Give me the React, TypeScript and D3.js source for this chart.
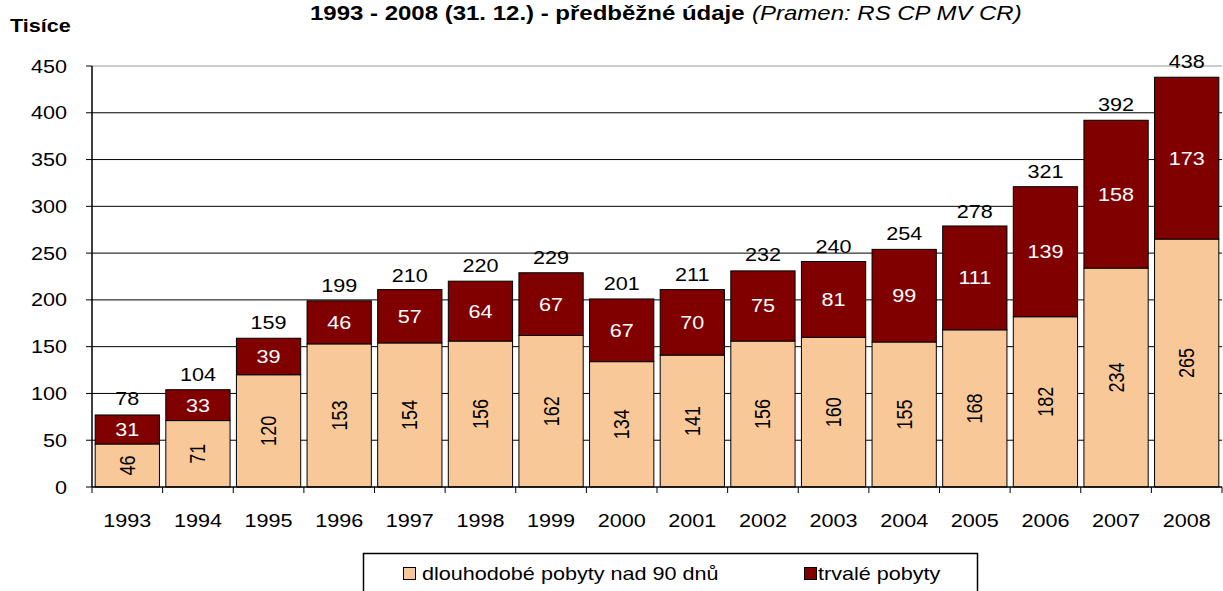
import React from "react";
import * as d3 from "d3";

const years = ["1993","1994","1995","1996","1997","1998","1999","2000","2001","2002","2003","2004","2005","2006","2007","2008"];
const longTerm = [46,71,120,153,154,156,162,134,141,156,160,155,168,182,234,265];
const permanent = [31,33,39,46,57,64,67,67,70,75,81,99,111,139,158,173];
const totals = [78,104,159,199,210,220,229,201,211,232,240,254,278,321,392,438];
const yTicks = [0,50,100,150,200,250,300,350,400,450];
const seriesNames = ["dlouhodobé pobyty nad 90 dnů", "trvalé pobyty"];

const W = 1223, H = 591;
const left = 92, right = 1222, top = 66, bottom = 487;
const C_LOW = "#F8C899", C_HIGH = "#800000";
const FONT = "'Liberation Sans', Arial, sans-serif";
const SX = 1.2;

function ST({ x, y, anchor = "start", size = 18, rot = 0, fill = "#000", weight = "normal", style = "normal", children }: any) {
  return (
    <g transform={`translate(${x},${y}) scale(${SX},1)${rot ? ` rotate(${rot})` : ""}`}>
      <text x={0} y={0} fontSize={size} textAnchor={anchor} fill={fill} fontWeight={weight} fontStyle={style}>{children}</text>
    </g>
  );
}

export default function App() {
  const x = d3.scaleBand().domain(years).range([left, right]).paddingInner(0.09).paddingOuter(0.045);
  const xb = d3.scaleBand().domain(years).range([left, right]);
  const y = d3.scaleLinear().domain([0, 450]).range([bottom, top]);
  return (
    <svg width={W} height={H} style={{ position: "absolute", left: 0, top: 0, background: "#fff" }} fontFamily={FONT}>
      <ST x={310} y={20} size={20} weight="bold">1993 - 2008 (31. 12.) - předběžné údaje</ST>
      <ST x={752} y={20} size={20} style="italic">(Pramen: RS CP MV CR)</ST>
      <ST x={10} y={32} size={18} weight="bold">Tisíce</ST>
      {yTicks.map(t => (
        <g key={t}>
          {t > 0 && <line x1={left} x2={right} y1={y(t)} y2={y(t)} stroke={t === 450 ? "#999" : "#000"} strokeWidth={1} />}
          <line x1={left - 6} x2={left} y1={y(t)} y2={y(t)} stroke="#000" />
          <ST x={67} y={y(t) + 6.5} anchor="end">{t}</ST>
        </g>
      ))}
      {years.map((yr, i) => {
        const bx = x(yr)!, bw = x.bandwidth();
        const y0 = y(0), y1 = y(longTerm[i]), y2 = y(longTerm[i] + permanent[i]);
        const cx = bx + bw / 2;
        const ly = (y0 + y1) / 2;
        return (
          <g key={yr}>
            <rect x={bx} y={y1} width={bw} height={y0 - y1} fill={C_LOW} stroke="#000" strokeWidth={1} />
            <rect x={bx} y={y2} width={bw} height={y1 - y2} fill={C_HIGH} stroke="#000" strokeWidth={1} />
            <ST x={cx + 7.5} y={ly} anchor="middle" rot={-90}>{longTerm[i]}</ST>
            <ST x={cx} y={(y1 + y2) / 2 + 6.5} anchor="middle" fill="#fff">{permanent[i]}</ST>
            <ST x={cx} y={y(totals[i]) - 9} anchor="middle">{totals[i]}</ST>
            <ST x={xb(yr)! + xb.bandwidth() / 2} y={527} anchor="middle">{yr}</ST>
          </g>
        );
      })}
      {years.map((yr) => (
        <line key={"t" + yr} x1={xb(yr)!} x2={xb(yr)!} y1={bottom} y2={bottom + 6} stroke="#000" />
      ))}
      <line x1={right} x2={right} y1={bottom} y2={bottom + 6} stroke="#000" />
      <line x1={left} x2={left} y1={top} y2={bottom} stroke="#000" strokeWidth={1.5} />
      <line x1={left} x2={right} y1={bottom} y2={bottom} stroke="#000" strokeWidth={1.5} />
      <rect x={363.5} y={553.5} width={614} height={50} fill="#fff" stroke="#000" strokeWidth={1.5} />
      <rect x={403.5} y={567.5} width={12} height={12} fill={C_LOW} stroke="#000" />
      <ST x={422} y={580}>{seriesNames[0]}</ST>
      <rect x={804.5} y={567.5} width={12} height={12} fill={C_HIGH} stroke="#000" />
      <ST x={818} y={580}>{seriesNames[1]}</ST>
    </svg>
  );
}
